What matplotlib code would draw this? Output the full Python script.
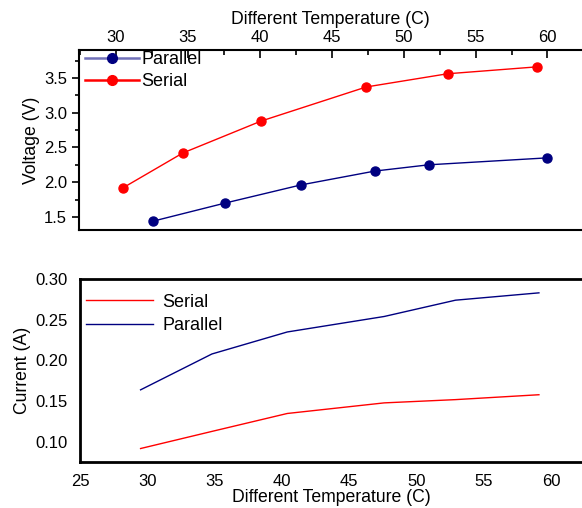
import matplotlib.pyplot as plt
from matplotlib.lines import Line2D
from matplotlib.ticker import MultipleLocator

plt.rcParams["font.family"] = ["Liberation Sans", "DejaVu Sans"]

# top panel: voltage
v_serial_t = [30.5, 34.65, 40.1, 47.4, 53.05, 59.3]
v_serial = [1.92, 2.42, 2.88, 3.37, 3.56, 3.66]
v_par_t = [32.6, 37.6, 42.85, 48.0, 51.75, 60.0]
v_par = [1.44, 1.70, 1.96, 2.16, 2.25, 2.35]

# bottom panel: current
i_t = [29.5, 34.8, 40.4, 47.6, 52.9, 59.1]
i_serial = [0.092, 0.113, 0.135, 0.148, 0.152, 0.158]
i_par = [0.164, 0.208, 0.235, 0.254, 0.274, 0.283]

RED = "#ff0000"
NAVY = "#000080"

fig = plt.figure(figsize=(5.82, 5.08), dpi=100)

# ---- top
ax1 = fig.add_axes([0.1357, 0.547, 0.8643, 0.3543])
ax1.plot(v_par_t, v_par, color=NAVY, lw=1, marker="o", ms=6.5)
ax1.plot(v_serial_t, v_serial, color=RED, lw=1, marker="o", ms=6.5)
ax1.set_xlim(27.43, 62.4)
ax1.set_ylim(1.31, 3.90)
ax1.xaxis.set_ticks_position("top")
ax1.xaxis.set_label_position("top")
ax1.xaxis.set_major_locator(MultipleLocator(5))
ax1.xaxis.set_minor_locator(MultipleLocator(2.5))
ax1.yaxis.set_major_locator(MultipleLocator(0.5))
ax1.yaxis.set_minor_locator(MultipleLocator(0.25))
ax1.tick_params(axis="x", which="both", direction="in", labelsize=12, pad=4)
ax1.tick_params(axis="x", which="major", length=6, width=1.2)
ax1.tick_params(axis="x", which="minor", length=3.5, width=1.2)
ax1.tick_params(axis="y", which="both", direction="out", labelsize=12, width=1.2)
ax1.tick_params(axis="y", which="major", length=5)
ax1.tick_params(axis="y", which="minor", length=3)
ax1.set_yticks([1.5, 2.0, 2.5, 3.0, 3.5])
ax1.set_yticklabels(["1.5", "2.0", "2.5", "3.0", "3.5"])
ax1.spines["right"].set_visible(False)
for s in ["top", "left", "bottom"]:
    ax1.spines[s].set_linewidth(1.5)
ax1.set_xlabel("Different Temperature (C)", fontsize=12.7, labelpad=4)
ax1.set_ylabel("Voltage (V)", fontsize=12.7, labelpad=3)
handles = [
    Line2D([], [], color="#7070b8", lw=1.8, marker="o", ms=7, mfc=NAVY, mec=NAVY),
    Line2D([], [], color=RED, lw=1.8, marker="o", ms=7, mfc=RED, mec=RED),
]
ax1.legend(handles, ["Parallel", "Serial"], loc="upper left", frameon=False,
           fontsize=13, bbox_to_anchor=(-0.002, 1.035), handlelength=3,
           handletextpad=0.1, labelspacing=0.3, borderaxespad=0)

# ---- bottom
ax2 = fig.add_axes([0.1375, 0.0906, 0.8625, 0.3602])
ax2.plot(i_t, i_serial, color=RED, lw=1, label="Serial")
ax2.plot(i_t, i_par, color=NAVY, lw=1, label="Parallel")
ax2.set_xlim(25, 62.3)
ax2.set_ylim(0.0755, 0.30)
ax2.set_xticks([25, 30, 35, 40, 45, 50, 55, 60])
ax2.set_yticks([0.10, 0.15, 0.20, 0.25, 0.30])
ax2.set_yticklabels(["0.10", "0.15", "0.20", "0.25", "0.30"])
ax2.tick_params(axis="both", which="both", length=0, labelsize=12)
ax2.tick_params(axis="x", pad=9)
ax2.tick_params(axis="y", pad=9)
ax2.spines["right"].set_visible(False)
for s in ["top", "left", "bottom"]:
    ax2.spines[s].set_linewidth(2)
ax2.set_xlabel("Different Temperature (C)", fontsize=12.7, labelpad=0)
ax2.set_ylabel("Current (A)", fontsize=12.7, labelpad=3)
ax2.legend(loc="upper left", frameon=False, fontsize=13,
           bbox_to_anchor=(-0.002, 0.96), handlelength=3.7,
           handletextpad=0.5, labelspacing=0.35, borderaxespad=0)

fig.savefig("out.png", dpi=100)
plt.close()
